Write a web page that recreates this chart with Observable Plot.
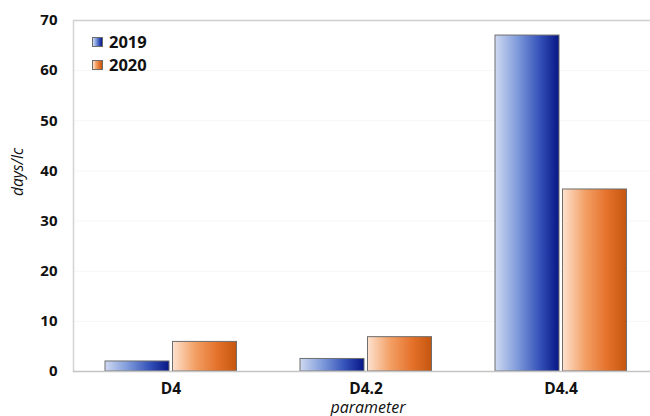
<!DOCTYPE html>
<html>
<head>
<meta charset="utf-8">
<script src="https://cdn.jsdelivr.net/npm/d3@7"></script>
<script src="https://cdn.jsdelivr.net/npm/@observablehq/plot@0.6"></script>
<style>
  html, body { margin: 0; padding: 0; background: #fff; overflow: hidden; }
  #wrap { position: relative; width: 650px; height: 416px; font-family: "Open Sans", sans-serif; }
  .legend { position: absolute; left: 92px; top: 30px; }
  .item { display: flex; align-items: center; height: 23px; font-weight: bold; font-size: 16.5px; color: #111; }
  .sw { width: 11px; height: 10px; box-sizing: border-box; border: 1px solid #6b6b6b; margin-right: 6px; }
</style>
</head>
<body>
<div id="wrap"></div>
<script>
const parameters = ["D4", "D4.2", "D4.4"];
const years = ["2019", "2020"];
const values2019 = [2.0, 2.5, 67.0];
const values2020 = [5.9, 6.85, 36.3];
const yTicks = [0, 10, 20, 30, 40, 50, 60, 70];
const xLabel = "parameter";
const yLabel = "days/lc";

const gradients = {
  "2019": [["0%", "#cfd9f1"], ["35%", "#7f9bdb"], ["70%", "#3452b9"], ["100%", "#081686"]],
  "2020": [["0%", "#fde2cf"], ["35%", "#f3a066"], ["70%", "#e5712a"], ["100%", "#c5560f"]]
};

const data2019 = parameters.map((p, i) => ({param: p, year: years[0], value: values2019[i]}));
const data2020 = parameters.map((p, i) => ({param: p, year: years[1], value: values2020[i]}));

const chart = Plot.plot({
  width: 650,
  height: 416,
  marginTop: 20,
  marginBottom: 45,
  marginLeft: 73,
  marginRight: 0,
  style: {fontFamily: "Open Sans, sans-serif", color: "#111", background: "#fff"},
  x: {type: "band", domain: parameters, range: [72.5, 657.5], padding: 0},
  y: {domain: [0, 70]},
  marks: [
    Plot.gridY(yTicks, {stroke: "#000", strokeOpacity: 0.04}),
    Plot.ruleY([70], {stroke: "#cfcfcf", strokeWidth: 1.5}),
    Plot.frame({anchor: "left", stroke: "#d4d4d4", strokeWidth: 1.5}),
    Plot.barY(data2019, {x: "param", y: "value", fill: "url(#grad2019)", stroke: "#6e6e6e", strokeWidth: 1, insetLeft: 32, insetRight: 99}),
    Plot.barY(data2020, {x: "param", y: "value", fill: "url(#grad2020)", stroke: "#6e6e6e", strokeWidth: 1, insetLeft: 99.5, insetRight: 31.5}),
    Plot.ruleY([0], {stroke: "#c4c4c4", strokeWidth: 1.5}),
    Plot.axisY({ticks: yTicks, tickSize: 0, tickPadding: 16, label: null, fontSize: 15, fontWeight: "bold", fill: "#111"}),
    Plot.axisX({tickSize: 0, tickPadding: 11, label: null, fontSize: 15.5, fontWeight: "bold", fill: "#111"}),
    Plot.text([yLabel], {frameAnchor: "left", dx: -55, rotate: -90, fontSize: 15.5, fontStyle: "italic", fill: "#111"}),
    Plot.text([xLabel], {frameAnchor: "bottom", dx: 6, dy: 41, fontSize: 16, fontStyle: "italic", fill: "#111"})
  ]
});

const svg = d3.select(chart);
const defs = svg.insert("defs", ":first-child");
for (const y of years) {
  const g = defs.append("linearGradient").attr("id", "grad" + y).attr("x1", "0").attr("x2", "1").attr("y1", "0").attr("y2", "0");
  for (const [o, c] of gradients[y]) g.append("stop").attr("offset", o).attr("stop-color", c);
}

const wrap = document.getElementById("wrap");
wrap.appendChild(chart);

const legend = document.createElement("div");
legend.className = "legend";
for (const y of years) {
  const item = document.createElement("div");
  item.className = "item";
  const sw = document.createElement("div");
  sw.className = "sw";
  sw.style.background = "linear-gradient(to right, " + gradients[y].map(([o, c]) => c + " " + o).join(", ") + ")";
  const t = document.createElement("span");
  t.textContent = y;
  item.appendChild(sw);
  item.appendChild(t);
  legend.appendChild(item);
}
wrap.appendChild(legend);
</script>
</body>
</html>
